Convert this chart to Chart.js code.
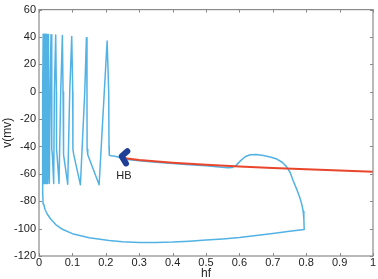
<!DOCTYPE html>
<html>
<head>
<meta charset="utf-8">
<script src="https://cdn.jsdelivr.net/npm/chart.js@4.4.1/dist/chart.umd.min.js"></script>
<style>
  html, body { margin: 0; padding: 0; background: #fff; }
  #wrap { width: 378px; height: 279px; }
</style>
</head>
<body>
<div id="wrap"><canvas id="chart" width="378" height="279"></canvas></div>
<script>
// axis ticks
const xTicks = [0, 0.1, 0.2, 0.3, 0.4, 0.5, 0.6, 0.7, 0.8, 0.9, 1];
const yTicks = [-120, -100, -80, -60, -40, -20, 0, 20, 40, 60];

// trajectory (hf, v) : spikes, rest near HB, bump, big loop back
const trajHf = [
  0.011, 0.0105,
  0.0115, 0.0125, 0.013, 0.0134, 0.0138,
  0.0143, 0.015, 0.0155, 0.0159, 0.0163,
  0.0168, 0.0175, 0.018, 0.0184, 0.0188,
  0.0193, 0.020, 0.0205, 0.0209, 0.0213,
  0.0218, 0.0225, 0.023, 0.0234, 0.0238,
  0.0243, 0.025, 0.0255, 0.026, 0.0265,
  0.0272, 0.028, 0.0286, 0.029, 0.031,
  0.033, 0.036, 0.038, 0.0385, 0.040, 0.044,
  0.046, 0.050, 0.052, 0.0525, 0.054, 0.060,
  0.065, 0.070, 0.072, 0.0725, 0.0745, 0.086,
  0.092, 0.098, 0.101, 0.1015, 0.104, 0.124,
  0.137, 0.142, 0.1437, 0.144, 0.146, 0.180,
  0.1955, 0.204, 0.2087, 0.2096, 0.2098, 0.211, 0.215, 0.2275, 0.24,
  0.25, 0.30, 0.35, 0.40, 0.45, 0.50, 0.54, 0.565, 0.578,
  0.59, 0.603, 0.617, 0.632, 0.65, 0.672, 0.695, 0.712, 0.728, 0.741,
  0.752, 0.761, 0.772, 0.781, 0.787, 0.791, 0.793, 0.794,
  0.75, 0.70, 0.65, 0.60, 0.55, 0.50, 0.45, 0.40, 0.35, 0.30, 0.25, 0.21,
  0.15, 0.10, 0.07, 0.05, 0.035, 0.025, 0.018, 0.014, 0.012, 0.011
];
const trajV = [
  -75, -68,
  0, 42, 0, -55, -67,
  0, 42, 0, -55, -67,
  0, 42, 0, -55, -67,
  0, 42, 0, -55, -67,
  0, 42, 0, -55, -67,
  0, 41.9, 0, -55, -67,
  0, 41.8, 0, -50, -67,
  0, 41.7, 0, -42, -46, -67,
  0, 41.5, 0, -42, -46, -67,
  0, 41, 0, -42, -46, -67.5,
  0, 40.3, 0, -42, -46, -68,
  0, 39.5, 0, -42, -46, -68,
  0, 37, 0, -40, -45, -46.3, -46.8, -47.1, -47.9,
  -49.2, -50.5, -51.6, -52.5, -53.3, -54.1, -55, -55.6, -55.4,
  -53.8, -50.5, -47.5, -46, -45.8, -46.6, -47.8, -49.2, -51.5, -54.7,
  -59, -65, -71.5, -77.4, -82.5, -87.5, -93, -100.6,
  -101.9, -103.5, -105, -106.4, -107.5, -108.4, -109.2, -109.8, -110.1, -110.1, -109.6, -108.6,
  -106.6, -103.7, -100.5, -97, -93, -89.5, -86, -82, -78.5, -75
];

// stable branch starting at HB
const branchHf = [0.245, 0.30, 0.40, 0.50, 0.60, 0.70, 0.80, 0.90, 1.0];
const branchV = [-48.3, -49.9, -51.8, -53.3, -54.6, -55.7, -56.7, -57.6, -58.4];

// HB marker (chevron) and label
const markHf = [0.2644, 0.2475, 0.2605];
const markV = [-43.5, -47.1, -52.4];
const hbLabel = "HB";
const hbLabelAt = [0.2545, -61.2];

function toPoints(xs, ys) {
  return xs.map((x, i) => ({ x: x, y: ys[i] }));
}

const fontFamily = '"Liberation Sans", Arial, Helvetica, sans-serif';
const axisColor = "#8a8a8a";

// box around plot + inward ticks on all four sides, plus HB text
const boxPlugin = {
  id: "box",
  afterDraw(chart) {
    const ctx = chart.ctx;
    const a = chart.chartArea;
    const xs = chart.scales.x;
    const ys = chart.scales.y;
    ctx.save();
    ctx.strokeStyle = axisColor;
    ctx.lineWidth = 1.2;
    ctx.strokeRect(a.left, a.top, a.right - a.left, a.bottom - a.top);
    ctx.lineWidth = 1;
    ctx.beginPath();
    xTicks.forEach((t) => {
      const px = Math.round(xs.getPixelForValue(t)) + 0.5;
      ctx.moveTo(px, a.bottom);
      ctx.lineTo(px, a.bottom - 3);
      ctx.moveTo(px, a.top);
      ctx.lineTo(px, a.top + 3);
    });
    yTicks.forEach((t) => {
      const py = Math.round(ys.getPixelForValue(t)) + 0.5;
      ctx.moveTo(a.left, py);
      ctx.lineTo(a.left + 3, py);
      ctx.moveTo(a.right, py);
      ctx.lineTo(a.right - 3, py);
    });
    ctx.stroke();

    ctx.fillStyle = "#222";
    ctx.font = "11px " + fontFamily;
    ctx.textAlign = "center";
    ctx.textBaseline = "middle";
    ctx.fillText(
      hbLabel,
      xs.getPixelForValue(hbLabelAt[0]),
      ys.getPixelForValue(hbLabelAt[1])
    );
    ctx.restore();
  },
};

const ctx = document.getElementById("chart").getContext("2d");
new Chart(ctx, {
  type: "scatter",
  data: {
    datasets: [
      {
        label: "HB",
        data: toPoints(markHf, markV),
        showLine: true,
        borderColor: "#1f3f96",
        borderWidth: 6,
        borderCapStyle: "round",
        borderJoinStyle: "round",
        pointRadius: 0,
      },
      {
        label: "branch",
        data: toPoints(branchHf, branchV),
        showLine: true,
        borderColor: "#e8452c",
        borderWidth: 2,
        pointRadius: 0,
      },
      {
        label: "trajectory",
        data: toPoints(trajHf, trajV),
        showLine: true,
        borderColor: "#52b2e4",
        borderWidth: 1.5,
        borderJoinStyle: "round",
        pointRadius: 0,
      },
    ],
  },
  options: {
    responsive: false,
    animation: false,
    layout: { padding: { left: 0, right: 5, top: 5, bottom: 0 } },
    plugins: {
      legend: { display: false },
      tooltip: { enabled: false },
    },
    scales: {
      x: {
        type: "linear",
        min: 0,
        max: 1,
        afterBuildTicks: (scale) => {
          scale.ticks = xTicks.map((v) => ({ value: v }));
        },
        afterFit: (scale) => {
          scale.height = 23;
        },
        grid: { display: false, drawTicks: false },
        border: { display: false },
        ticks: {
          autoSkip: false,
          maxRotation: 0,
          padding: 0,
          color: "#222",
          font: { family: fontFamily, size: 11 },
          callback: (v) => String(Math.round(v * 10) / 10),
        },
        title: {
          display: true,
          text: "hf",
          color: "#222",
          padding: { top: 0, bottom: -2 },
          font: { family: fontFamily, size: 12 },
        },
      },
      y: {
        type: "linear",
        min: -120,
        max: 60,
        afterBuildTicks: (scale) => {
          scale.ticks = yTicks.map((v) => ({ value: v }));
        },
        afterFit: (scale) => {
          scale.width = 39;
        },
        grid: { display: false, drawTicks: false },
        border: { display: false },
        ticks: {
          autoSkip: false,
          padding: 3,
          color: "#222",
          font: { family: fontFamily, size: 11 },
        },
        title: {
          display: true,
          text: "v(mv)",
          color: "#222",
          padding: 0,
          font: { family: fontFamily, size: 12 },
        },
      },
    },
  },
  plugins: [boxPlugin],
});
</script>
</body>
</html>
